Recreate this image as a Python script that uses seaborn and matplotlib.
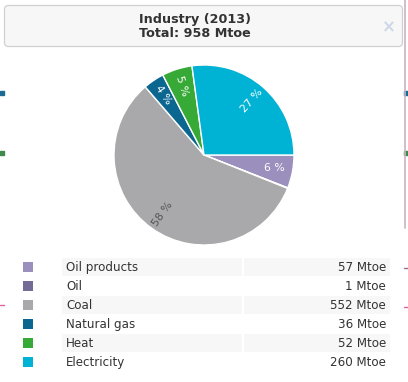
import numpy as np
import pandas as pd
import matplotlib
matplotlib.use("Agg")
import matplotlib.pyplot as plt
import seaborn as sns
from matplotlib.patches import FancyBboxPatch, Rectangle

# data
categories = ["Oil products", "Oil", "Coal", "Natural gas", "Heat", "Electricity"]
values = [57, 1, 552, 36, 52, 260]
colors = ["#9a8fbd", "#736a95", "#a9a9ab", "#0b6690", "#37a936", "#00b2d3"]
title_lines = ["Industry (2013)", "Total: 958 Mtoe"]

sns.set_style("white")
plt.rcParams["font.family"] = ["DejaVu Sans"]

W, H = 408, 382
fig = plt.figure(figsize=(W / 100, H / 100), dpi=100)
fig.patch.set_facecolor("white")

# overlay axes in pixel coordinates
bg = fig.add_axes([0, 0, 1, 1])
bg.set_xlim(0, W)
bg.set_ylim(H, 0)
bg.axis("off")

# stray bits of the chart behind the popup
bg.plot([405, 405], [0, 228], color="#c9b3c4", lw=1.2)
for y0, c in [(93, "#1a6a94"), (153, "#3f8a4a")]:
    bg.add_patch(Rectangle((0, y0 - 2), 4, 4, color=c))
    bg.add_patch(Rectangle((404, y0 - 2), 4, 4, color=c))
bg.plot([404, 408], [268, 268], color="#a06a8a", lw=1)
bg.plot([404, 408], [307, 307], color="#e060a0", lw=1)
bg.plot([0, 4], [305, 305], color="#e060a0", lw=1)

# title box
bg.add_patch(FancyBboxPatch((4.5, 5.5), 398, 41, boxstyle="round,pad=0,rounding_size=4",
                            facecolor="#f7f7f7", edgecolor="#d0d0d0", lw=0.9))
bg.text(195, 19, title_lines[0], ha="center", va="center", fontsize=9.2,
        fontweight="bold", color="#333333")
bg.text(195, 33.5, title_lines[1], ha="center", va="center", fontsize=9.2,
        fontweight="bold", color="#333333")
bg.text(389, 27, "\u00d7", ha="center", va="center", fontsize=12,
        fontweight="bold", color="#cdd7e8")

# pie
cx, cy, r = 204, 155, 90
pax = fig.add_axes([(cx - r) / W, (H - cy - r) / H, 2 * r / W, 2 * r / H])
wedges, _ = pax.pie(values, colors=colors, startangle=0, counterclock=False,
                    wedgeprops=dict(edgecolor="white", linewidth=1))
pax.set_xlim(-1, 1)
pax.set_ylim(-1, 1)
pax.set_aspect("equal")
pax.axis("off")

total = sum(values)
for w, v in zip(wedges, values):
    pct = round(v / total * 100)
    if pct < 1:
        continue
    mid = (w.theta1 + w.theta2) / 2
    mid = (mid + 180) % 360 - 180
    rot = mid
    if rot > 90:
        rot -= 180
    elif rot < -90:
        rot += 180
    if abs(rot) < 15:
        rot = 0
    x = 0.8 * np.cos(np.radians(mid))
    y = 0.8 * np.sin(np.radians(mid))
    col = "#555555" if pct > 50 else "white"
    pax.text(x, y, f"{pct} %", ha="center", va="center", rotation=rot,
             rotation_mode="anchor", fontsize=7.8, color=col)

# table
row_y = 267 + 19 * np.arange(len(categories))
for i, (name, v) in enumerate(zip(categories, values)):
    yy = row_y[i]
    if i % 2 == 0:
        bg.add_patch(Rectangle((62, yy - 9), 180, 18, facecolor="#f7f7f7", lw=0))
        bg.add_patch(Rectangle((244, yy - 9), 146, 18, facecolor="#f7f7f7", lw=0))
    bg.text(66, yy + 0.5, name, ha="left", va="center", fontsize=8.6, color="#333333")
    bg.text(386, yy + 0.5, f"{v} Mtoe", ha="right", va="center", fontsize=8.6,
            color="#333333")

legend_df = pd.DataFrame({"x": [28] * len(categories), "y": row_y, "cat": categories})
sns.scatterplot(data=legend_df, x="x", y="y", hue="cat", palette=colors,
                marker="s", s=52, linewidth=0, legend=False, ax=bg)
bg.set_xlim(0, W)
bg.set_ylim(H, 0)
bg.axis("off")

fig.savefig("out.png", dpi=100)
